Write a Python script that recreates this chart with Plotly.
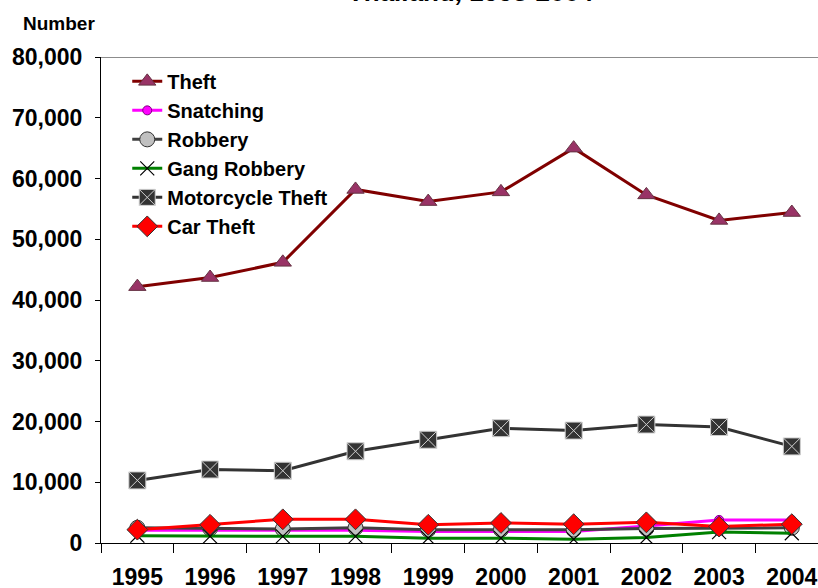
import plotly.graph_objects as go

years = ["1995", "1996", "1997", "1998", "1999", "2000", "2001", "2002", "2003", "2004"]

theft = [42200, 43700, 46200, 58200, 56200, 57800, 65000, 57300, 53100, 54400]
snatching = [2100, 2100, 2000, 2100, 1900, 1900, 1900, 2800, 3800, 3800]
robbery = [2500, 2400, 2300, 2500, 2200, 2200, 2200, 2400, 2500, 2500]
gang_robbery = [1200, 1100, 1100, 1100, 800, 800, 600, 900, 1800, 1600]
motorcycle_theft = [10300, 12100, 11900, 15100, 17000, 18900, 18500, 19500, 19100, 15900]
car_theft = [2200, 3000, 3900, 3900, 3000, 3300, 3100, 3400, 2700, 3100]

y_max = 80000
FONT = "Liberation Sans, Arial, sans-serif"

fig = go.Figure()

fig.add_trace(go.Scatter(
    x=years, y=theft, name="Theft", mode="lines+markers",
    line=dict(color="#800000", width=3),
    marker=dict(symbol="triangle-up", size=15, color="#993366",
                line=dict(color="#663344", width=1)),
))
fig.add_trace(go.Scatter(
    x=years, y=snatching, name="Snatching", mode="lines+markers",
    line=dict(color="#FF00FF", width=3),
    marker=dict(symbol="circle", size=9, color="#FF00FF",
                line=dict(color="#800080", width=1)),
))
fig.add_trace(go.Scatter(
    x=years, y=robbery, name="Robbery", mode="lines+markers",
    line=dict(color="#404040", width=3),
    marker=dict(symbol="circle", size=15, color="#C0C0C0",
                line=dict(color="#333333", width=1)),
))
fig.add_trace(go.Scatter(
    x=years, y=gang_robbery, name="Gang Robbery", mode="lines+markers",
    line=dict(color="#008000", width=3),
    marker=dict(symbol="x-thin", size=14, color="black",
                line=dict(color="black", width=1.2)),
))
fig.add_trace(go.Scatter(
    x=years, y=motorcycle_theft, name="Motorcycle Theft", mode="lines+markers",
    line=dict(color="#333333", width=3),
    marker=dict(symbol="square-x", size=17, color="#333333",
                line=dict(color="#D0D0D0", width=1)),
))
fig.add_trace(go.Scatter(
    x=years, y=car_theft, name="Car Theft", mode="lines+markers",
    line=dict(color="#FF0000", width=3),
    marker=dict(symbol="diamond", size=16, color="#FF0000",
                line=dict(color="#333333", width=1)),
))

# top frame line at the axis maximum
fig.add_shape(type="line", xref="paper", x0=0, x1=1, yref="y", y0=y_max, y1=y_max,
              line=dict(color="#8C8C8C", width=2))

fig.add_annotation(text="<b>Number</b>", xref="paper", yref="paper",
                   x=-0.058, y=1.068, xanchor="center", yanchor="middle",
                   showarrow=False,
                   font=dict(family=FONT, size=19, color="black"))
# title sits mostly above the visible page, as in the reference
fig.add_annotation(text="<b><i>Thailand, 1995-2004</i></b>", xref="paper", yref="paper",
                   x=0.517, y=1.0995, xanchor="center", yanchor="bottom",
                   showarrow=False,
                   font=dict(family=FONT, size=26, color="black"))

fig.update_layout(
    width=818, height=588,
    margin=dict(l=101, r=0, t=57, b=45, autoexpand=False),
    paper_bgcolor="white", plot_bgcolor="white",
    font=dict(family=FONT, color="black"),
    showlegend=True,
    legend=dict(x=0.0366, y=0.990, xanchor="left", yanchor="top",
                bgcolor="rgba(0,0,0,0)", borderwidth=0,
                font=dict(family=FONT, size=20, color="black", weight="bold"),
                tracegroupgap=0),
    xaxis=dict(type="category", range=[-0.5, 9.36], tickson="boundaries",
               ticks="outside", ticklen=9, tickcolor="black",
               showline=True, linecolor="black", linewidth=1,
               showgrid=False, zeroline=False, automargin=False,
               tickfont=dict(family=FONT, size=23, color="black", weight="bold"),
               ticklabelstandoff=13),
    yaxis=dict(range=[0, y_max], tickmode="linear", tick0=0, dtick=10000,
               tickformat=",d", ticks="outside", ticklen=5, tickcolor="black",
               showline=True, linecolor="black", linewidth=1,
               showgrid=False, zeroline=False, automargin=False,
               tickfont=dict(family=FONT, size=23, color="black", weight="bold"),
               ticklabelstandoff=8),
)

# drop the browser's default body margin so the figure starts at the page corner
fig.write_html("out.html", config={"displayModeBar": False},
               post_script="document.body.style.margin='0px';")
